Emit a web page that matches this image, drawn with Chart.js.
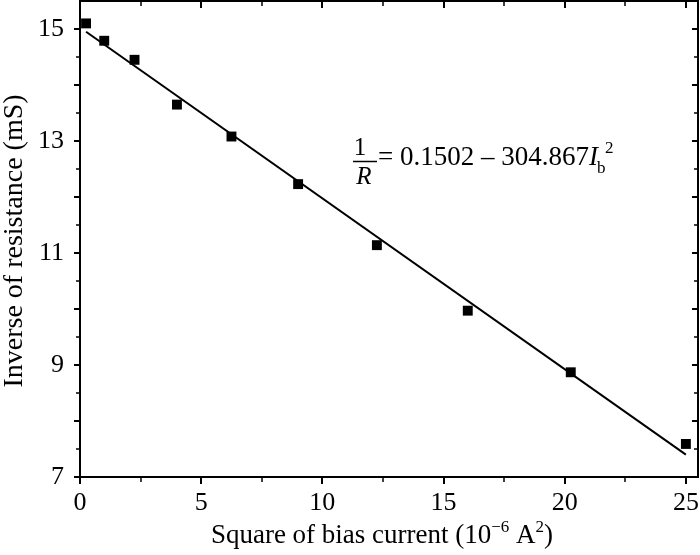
<!DOCTYPE html>
<html>
<head>
<meta charset="utf-8">
<script src="https://cdn.jsdelivr.net/npm/chart.js@4.4.1/dist/chart.umd.min.js"></script>
<style>
  body { margin: 0; background: #fff; }
  canvas { display: block; }
</style>
</head>
<body>
<canvas id="chart" width="700" height="555"></canvas>
<script>
// measured points (x = Ib^2 in 1e-6 A^2, y = 1/R in mS)
const biasSq = [0.25, 1, 2.25, 4, 6.25, 9, 12.25, 16, 20.25, 25];
const invRes = [15.10, 14.79, 14.45, 13.65, 13.08, 12.23, 11.14, 9.97, 8.87, 7.59];

// fitted line endpoints
const fitX = [0.25, 25];
const fitY = [14.95, 7.40];

// tick labels and tick marks
const xLabels = [0, 5, 10, 15, 20, 25];
const yLabels = [7, 9, 11, 13, 15];
const xMarks = [0, 2.5, 5, 7.5, 10, 12.5, 15, 17.5, 20, 22.5, 25];
const yMarks = [7, 7.5, 8, 8.5, 9, 9.5, 10, 10.5, 11, 11.5, 12, 12.5, 13, 13.5, 14, 14.5, 15];

const xTitle = ['Square of bias current (10', '\u22126', ' A', '2', ')'];
const yTitle = 'Inverse of resistance (mS)';

const SERIF = '"Liberation Serif", "Times New Roman", serif';

// no extra padding around the scales, the frame sits at fixed spots
const noPad = s => { s.paddingTop = 0; s.paddingBottom = 0; s.paddingLeft = 0; s.paddingRight = 0; };

const framePlugin = {
  id: 'frame',
  afterDraw(chart) {
    const ctx = chart.ctx;
    const a = chart.chartArea;
    const xs = chart.scales.x, ys = chart.scales.y;
    ctx.save();
    ctx.strokeStyle = '#000';
    ctx.lineWidth = 2;
    ctx.strokeRect(a.left, a.top, a.right - a.left, a.bottom - a.top);

    // x ticks: out at bottom, in at top
    xMarks.forEach(v => {
      const px = Math.round(xs.getPixelForValue(v));
      const major = v % 5 === 0;
      const len = major ? 7 : 5;
      ctx.lineWidth = major ? 2 : 1.5;
      ctx.beginPath();
      ctx.moveTo(px, a.bottom); ctx.lineTo(px, a.bottom + len);
      ctx.moveTo(px, a.top); ctx.lineTo(px, a.top + len);
      ctx.stroke();
    });
    // y ticks: out at left, in at right
    yMarks.forEach(v => {
      const py = Math.round(ys.getPixelForValue(v));
      const major = v % 1 === 0;
      const len = major ? 6 : 4;
      ctx.lineWidth = major ? 2 : 1.5;
      ctx.beginPath();
      ctx.moveTo(a.left, py); ctx.lineTo(a.left - len, py);
      ctx.moveTo(a.right, py); ctx.lineTo(a.right - len, py);
      ctx.stroke();
    });

    ctx.fillStyle = '#000';
    ctx.textBaseline = 'alphabetic';

    // x axis title with superscripts
    const parts = xTitle.map((t, i) => ({ t, sup: i === 1 || i === 3 }));
    let total = 0;
    parts.forEach(p => {
      ctx.font = (p.sup ? '17px ' : '27px ') + SERIF;
      p.w = ctx.measureText(p.t).width;
      total += p.w;
    });
    let cx = 382 - total / 2;
    parts.forEach(p => {
      ctx.font = (p.sup ? '17px ' : '27px ') + SERIF;
      ctx.textAlign = 'left';
      ctx.fillText(p.t, cx, p.sup ? 532 : 543);
      cx += p.w;
    });

    // y axis title
    ctx.save();
    ctx.translate(22, 241);
    ctx.rotate(-Math.PI / 2);
    ctx.font = '28px ' + SERIF;
    ctx.textAlign = 'center';
    ctx.fillText(yTitle, 0, 0);
    ctx.restore();

    // equation: 1/R = 0.1502 – 304.867 Ib^2
    ctx.textAlign = 'center';
    ctx.font = '25px ' + SERIF;
    ctx.fillText('1', 360, 155);
    ctx.font = 'italic 25px ' + SERIF;
    ctx.fillText('R', 364, 184);
    ctx.lineWidth = 1.5;
    ctx.beginPath();
    ctx.moveTo(353, 161.5); ctx.lineTo(377, 161.5);
    ctx.stroke();
    ctx.textAlign = 'left';
    let ex = 378;
    ctx.font = '27px ' + SERIF;
    const eq = '= 0.1502 \u2013 304.867';
    ctx.fillText(eq, ex, 165);
    ex += ctx.measureText(eq).width;
    ctx.font = 'italic 27px ' + SERIF;
    ctx.fillText('I', ex, 165);
    ex += ctx.measureText('I').width;
    ctx.font = '17px ' + SERIF;
    ctx.fillText('b', ex - 1, 173);
    ctx.fillText('2', ex + 7, 153);
    ctx.restore();
  }
};

new Chart(document.getElementById('chart').getContext('2d'), {
  data: {
    datasets: [{
      type: 'line',
      label: 'Fit',
      data: fitX.map((x, i) => ({ x: x, y: fitY[i] })),
      borderColor: '#000',
      borderWidth: 2,
      pointRadius: 0,
      fill: false
    }, {
      type: 'scatter',
      label: 'Measured',
      data: biasSq.map((x, i) => ({ x: x, y: invRes[i] })),
      backgroundColor: '#000',
      borderColor: '#000',
      pointStyle: 'rect',
      pointRadius: 7,
      borderWidth: 0
    }]
  },
  options: {
    responsive: false,
    animation: false,
    layout: { autoPadding: false, padding: { top: 1, right: 2, left: 0, bottom: 0 } },
    plugins: { legend: { display: false }, tooltip: { enabled: false } },
    scales: {
      x: {
        type: 'linear',
        min: 0,
        max: 25.5,
        afterBuildTicks: s => { s.ticks = xLabels.map(v => ({ value: v })); },
        afterFit: s => { s.height = 78; noPad(s); },
        grid: { display: false },
        border: { display: false },
        ticks: {
          color: '#000',
          font: { family: SERIF, size: 26 },
          padding: 3,
          maxRotation: 0
        }
      },
      y: {
        type: 'linear',
        min: 7,
        max: 15.5,
        afterBuildTicks: s => { s.ticks = yLabels.map(v => ({ value: v })); },
        afterFit: s => { s.width = 80; noPad(s); },
        grid: { display: false },
        border: { display: false },
        ticks: {
          color: '#000',
          font: { family: SERIF, size: 26 },
          padding: 8
        }
      }
    }
  },
  plugins: [framePlugin]
});
</script>
</body>
</html>
